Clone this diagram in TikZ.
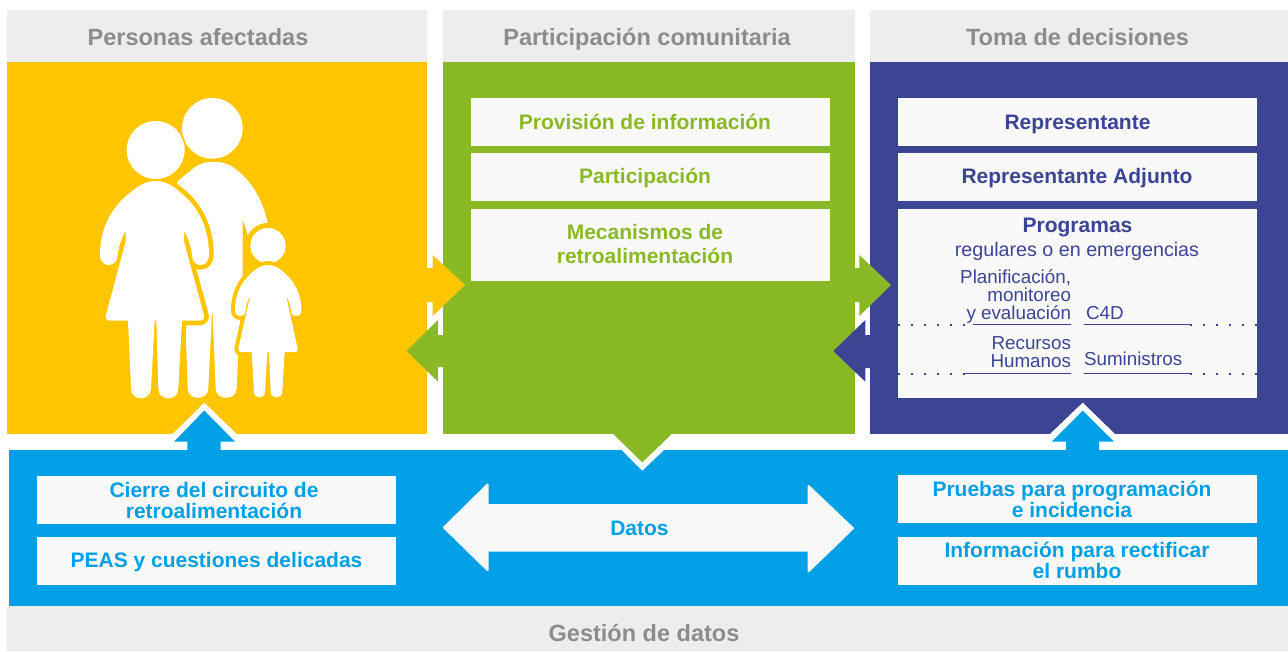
\documentclass[tikz,border=0pt]{standalone}
\usepackage{fontspec}
\setmainfont{Liberation Sans}
\definecolor{yel}{HTML}{FFC600}
\definecolor{grn}{HTML}{89B925}
\definecolor{nav}{HTML}{3C4494}
\definecolor{blu}{HTML}{00A0E6}
\definecolor{hdr}{HTML}{EDEDED}
\definecolor{hdrtxt}{HTML}{8C8C8C}
\definecolor{boxw}{HTML}{F9F9F9}
\tikzset{
 panel/.style={inner sep=0pt,outer sep=0pt,draw=none},
 hdrbox/.style={panel,fill=hdr},
 hdrlbl/.style={inner sep=0pt,anchor=base,text=hdrtxt,font=\fontsize{23.5}{25}\selectfont\bfseries},
 wbox/.style={panel,fill=boxw},
 blbl/.style={inner sep=0pt,anchor=base,align=center,font=\fontsize{21}{21}\selectfont\bfseries},
 mlbl/.style={inner sep=0pt,align=center,font=\fontsize{21}{#1}\selectfont\bfseries},
 lbl/.style={inner sep=0pt,outer sep=0pt,text=nav,align=right,font=\fontsize{18.8}{18.3}\selectfont},
 solidln/.style={draw=nav,line width=1.9pt},
 dotln/.style={draw=nav,line width=2pt,dash pattern=on 2pt off 11pt},
 fig/.style={fill=white,draw=none},
 figo/.style={fill=white,preaction={draw=yel,line width=#1,line join=round}},
 rndarrow/.style={fill=boxw,draw=boxw,line width=2pt,line join=round}
}
\begin{document}
\begin{tikzpicture}[x=1pt,y=-1pt]
\useasboundingbox (0,0) rectangle (1288,651);
\fill[white] (0,0) rectangle (1288,651);
% headers
\node[hdrbox,minimum width=420pt,minimum height=52pt] (h1) at (217,36) {};
\node[hdrbox,minimum width=412pt,minimum height=52pt] (h2) at (649,36) {};
\node[hdrbox,minimum width=418pt,minimum height=52pt] (h3) at (1079,36) {};
\node[hdrlbl] (h1t) at (198,45) {Personas afectadas};
\node[hdrlbl] (h2t) at (647,45) {Participación comunitaria};
\node[hdrlbl] (h3t) at (1077.5,45) {Toma de decisiones};
% panels
\node[panel,fill=yel,minimum width=420pt,minimum height=372pt] (p1) at (217,248) {};
\node[panel,fill=grn,minimum width=412pt,minimum height=372pt] (p2) at (649,248) {};
\node[panel,fill=nav,minimum width=418pt,minimum height=372pt] (p3) at (1079,248) {};
\node[panel,fill=blu,minimum width=1279pt,minimum height=156pt] (p4) at (648.5,528) {};
\node[hdrbox,minimum width=1281pt,minimum height=45pt] (h4) at (647.5,628.5) {};
\node[hdrlbl] (h4t) at (644,641) {Gestión de datos};
% green boxes
\node[wbox,minimum width=359pt,minimum height=48pt] (g1) at (650.5,122) {};
\node[wbox,minimum width=359pt,minimum height=48pt] (g2) at (650.5,177) {};
\node[wbox,minimum width=359pt,minimum height=72pt] (g3) at (650.5,245) {};
\begin{scope}[every node/.append style={text=grn}]
\node[blbl] (g1t) at (645,129) {Provisión de información};
\node[blbl] (g2t) at (645,183) {Participación};
\node[mlbl=24] (g3t) at (645,244) {Mecanismos de\\retroalimentación};
\end{scope}
% navy boxes
\node[wbox,minimum width=359pt,minimum height=48pt] (n1) at (1077.5,122) {};
\node[wbox,minimum width=359pt,minimum height=48pt] (n2) at (1077.5,177) {};
\node[wbox,minimum width=359pt,minimum height=189pt] (n3) at (1077.5,303.5) {};
\begin{scope}[every node/.append style={text=nav}]
\node[blbl] (n1t) at (1077.5,129) {Representante};
\node[blbl] (n2t) at (1077,183) {Representante Adjunto};
\node[blbl] (n3a) at (1077.5,232) {Programas};
\node[inner sep=0pt,anchor=base,font=\fontsize{19.7}{21}\selectfont] (n3b) at (1077,256) {regulares o en emergencias};
\end{scope}
\node[lbl,anchor=south east] (pl) at (1071,323.5) {Planificación,\\monitoreo\\y evaluación};
\node[lbl,anchor=base west] (c4) at (1086,319) {C4D};
\node[lbl,anchor=south east] (rh) at (1071,368) {Recursos\\Humanos};
\node[lbl,anchor=base west] (su) at (1084,365) {Suministros};
\coordinate (la) at (898,324.5); \coordinate (lb) at (973,324.5); \coordinate (lc) at (1070.7,324.5);
\coordinate (ld) at (1084.3,324.5); \coordinate (le) at (1189.5,324.5); \coordinate (lf) at (1257,324.5);
\coordinate (ma) at (898,373.5); \coordinate (mb) at (965,373.5); \coordinate (mc) at (1070.7,373.5);
\coordinate (md) at (1084.3,373.5); \coordinate (me) at (1189.5,373.5); \coordinate (mf) at (1257,373.5);
\draw[dotln] (la) -- (lb); \draw[solidln] (lb) -- (lc); \draw[solidln] (ld) -- (le); \draw[dotln] (le) -- (lf);
\draw[dotln] (ma) -- (mb); \draw[solidln] (mb) -- (mc); \draw[solidln] (md) -- (me); \draw[dotln] (me) -- (mf);
% blue boxes
\node[wbox,minimum width=359pt,minimum height=48pt] (b1) at (216.5,500) {};
\node[wbox,minimum width=359pt,minimum height=48pt] (b2) at (216.5,561) {};
\node[wbox,minimum width=359pt,minimum height=48pt] (b3) at (1077.5,499) {};
\node[wbox,minimum width=359pt,minimum height=48pt] (b4) at (1077.5,561) {};
\begin{scope}[every node/.append style={text=blu}]
\node[mlbl=21] (b1t) at (214,500.5) {Cierre del circuito de\\retroalimentación};
\node[blbl] (b2t) at (216.5,567) {PEAS y cuestiones delicadas};
\node[mlbl=21] (b3t) at (1072,499.5) {Pruebas para programación\\e incidencia};
\node[mlbl=21] (b4t) at (1077,560.5) {Información para rectificar\\el rumbo};
\end{scope}
% side arrows
\fill[yel] (427,268) -- (432.7,268) -- (432.7,255) -- (465,285) -- (432.7,316) -- (432.7,302) -- (427,302) -- cycle;
\fill[grn] (443,335) -- (438,335) -- (438,320) -- (406.7,351) -- (438,381.7) -- (438,367) -- (443,367) -- cycle;
\fill[grn] (855,268) -- (859.3,268) -- (859.3,255) -- (891,285) -- (859.3,316) -- (859.3,302) -- (855,302) -- cycle;
\fill[nav] (870,335) -- (865.3,335) -- (865.3,320) -- (833.3,351) -- (865.3,381.7) -- (865.3,368) -- (870,368) -- cycle;
% up arrows
\fill[white] (172.7,434) -- (204.3,402.7) -- (236.7,434) -- cycle;
\fill[blu] (187.3,450) -- (187.3,441.7) -- (174,441.7) -- (204.3,410.5) -- (235,441.7) -- (220.7,441.7) -- (220.7,450) -- cycle;
\fill[white] (1050,434) -- (1082.7,402.7) -- (1115,434) -- cycle;
\fill[blu] (1066,450) -- (1066,441.7) -- (1051.7,441.7) -- (1082.7,410.7) -- (1114,441.7) -- (1099,441.7) -- (1099,450) -- cycle;
% down arrow
\fill[white] (621.7,450) -- (642.3,470.7) -- (664,450) -- cycle;
\fill[grn] (613.3,434) -- (642.3,462.3) -- (671.7,434) -- cycle;
% double arrow
\filldraw[rndarrow] (444,527.5) -- (487.5,484.5) -- (487.5,505) -- (808.5,505) -- (808.5,486) -- (853,528.3) -- (808.5,571.3) -- (808.5,550.7) -- (487.5,550.7) -- (487.5,570) -- cycle;
\node[blbl,text=blu] (dat) at (639.5,535) {Datos};
% family
\begin{scope}[shift={(60,80)},scale=1/3]
 % man
 \fill[white] (457,145) circle[radius=91];
 \fill[yel] (287,210) circle[radius=92];
 \path[fig] (352,305) -- (400,265) .. controls (430,240) and (485,238) .. (520,262)
   .. controls (570,298) and (605,350) .. (623,428)
   .. controls (595,432) and (575,445) .. (565,468)
   -- (548,418) -- (548,590) -- (535,820) -- (530,925)
   .. controls (530,963) and (467,963) .. (467,925) -- (458,700) -- (456,700) -- (445,925)
   .. controls (445,963) and (383,963) .. (383,925) -- (378,780) -- (378,722) -- (300,500) -- cycle;
 % woman
 \path[figo=9.4pt] (287,303) .. controls (255,303) and (235,318) .. (210,338)
   .. controls (150,385) and (120,450) .. (120,525)
   .. controls (120,565) and (173,565) .. (173,525)
   .. controls (176,498) and (185,475) .. (197,452)
   -- (197,485) -- (138,705) .. controls (135,715) and (142,722) .. (152,722)
   -- (204,722) -- (213,925) .. controls (213,965) and (273,965) .. (273,925)
   -- (284,722) -- (289,722) -- (295,925) .. controls (295,965) and (355,965) .. (355,925)
   -- (366,722) -- (418,722) .. controls (428,722) and (435,715) .. (432,705)
   -- (372,485) -- (372,452) .. controls (385,475) and (393,498) .. (396,525)
   .. controls (396,565) and (447,565) .. (447,525)
   .. controls (447,450) and (420,385) .. (362,338)
   .. controls (340,318) and (318,303) .. (287,303) -- cycle;
 \fill[white] (287,210) circle[radius=87];
 % child
 \fill[yel] (624,497) circle[radius=68];
 \fill[white] (624,497) circle[radius=53];
 \path[figo=8pt] (624,555) .. controls (605,555) and (590,565) .. (575,578)
   .. controls (545,605) and (525,640) .. (525,692)
   .. controls (525,714) and (557,714) .. (557,692)
   .. controls (558,675) and (563,660) .. (571,645)
   -- (535,805) .. controls (534,812) and (538,816) .. (543,816)
   -- (575,816) -- (582,935) .. controls (582,958) and (615,958) .. (615,935)
   -- (622,816) -- (627,816) -- (632,935) .. controls (632,958) and (667,958) .. (667,935)
   -- (674,816) -- (705,816) .. controls (710,816) and (714,812) .. (713,805)
   -- (678,645) .. controls (686,660) and (691,675) .. (693,692)
   .. controls (693,714) and (724,714) .. (724,692)
   .. controls (724,640) and (703,605) .. (673,578)
   .. controls (658,565) and (643,555) .. (624,555) -- cycle;
\end{scope}
\end{tikzpicture}
\end{document}
